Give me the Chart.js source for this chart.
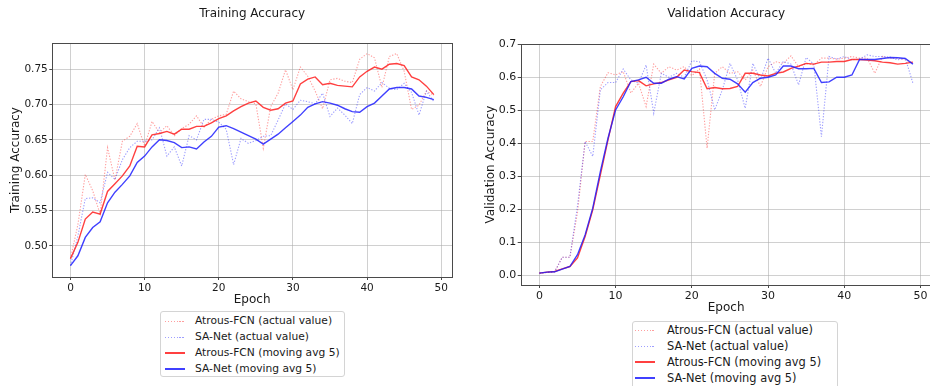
<!DOCTYPE html>
<html>
<head>
<meta charset="utf-8">
<script src="https://cdn.jsdelivr.net/npm/chart.js@4.4.1/dist/chart.umd.min.js"></script>
<style>
  html, body { margin: 0; padding: 0; background: #fff; }
  #page { position: relative; width: 930px; height: 386px; overflow: hidden; font-family: 'DejaVu Sans', sans-serif; }
  canvas { position: absolute; top: 0; }
  #trainChart { left: 0; }
  #valChart { left: 465px; }
  .legend { position: absolute; background: #fff; border: 1px solid #d4d4d4; border-radius: 3px; box-sizing: border-box; color: #1a1a1a; }
  .legend .row { display: flex; align-items: flex-start; white-space: nowrap; height: 16px; line-height: 16px; }
  .legend .swatch { display: block; width: 20px; flex: none; }
  #trainLegend { left: 160px; top: 311px; width: 185px; height: 66px; padding-top: 1px; font-size: 10.7px; }
  #trainLegend .swatch { margin-left: 4px; margin-right: 10px; }
  #valLegend { left: 632px; top: 321px; width: 206px; height: 68px; padding-top: 0; font-size: 11.4px; }
  #valLegend .swatch { margin-left: 2px; margin-right: 12px; }
</style>
</head>
<body>
<div id="page">
  <canvas id="trainChart" width="465" height="310"></canvas>
  <canvas id="valChart" width="480" height="320"></canvas>
  <div id="trainLegend" class="legend"></div>
  <div id="valLegend" class="legend"></div>
</div>
<script>
// Epoch index shared by both panels
const epochs = [0,1,2,3,4,5,6,7,8,9,10,11,12,13,14,15,16,17,18,19,20,21,22,23,24,25,26,27,28,29,30,31,32,33,34,35,36,37,38,39,40,41,42,43,44,45,46,47,48,49];

// Training accuracy per epoch
const trainAtrousActual = [0.482,0.530,0.601,0.578,0.545,0.639,0.593,0.648,0.655,0.673,0.641,0.676,0.660,0.670,0.656,0.666,0.672,0.684,0.668,0.679,0.684,0.686,0.719,0.708,0.704,0.701,0.638,0.697,0.716,0.749,0.721,0.753,0.740,0.719,0.694,0.735,0.737,0.733,0.731,0.764,0.772,0.766,0.724,0.768,0.772,0.747,0.693,0.699,0.719,0.713];
const trainSaActual     = [0.472,0.514,0.567,0.568,0.561,0.604,0.594,0.622,0.639,0.648,0.648,0.650,0.667,0.627,0.640,0.613,0.656,0.650,0.679,0.679,0.675,0.665,0.615,0.652,0.645,0.649,0.655,0.656,0.678,0.701,0.693,0.706,0.704,0.701,0.716,0.683,0.695,0.685,0.673,0.714,0.724,0.719,0.731,0.723,0.721,0.730,0.717,0.685,0.719,0.704];
const trainAtrousAvg    = [0.482,0.505,0.538,0.548,0.545,0.577,0.588,0.599,0.613,0.641,0.640,0.657,0.659,0.662,0.658,0.665,0.665,0.669,0.669,0.674,0.680,0.684,0.691,0.697,0.702,0.705,0.696,0.692,0.694,0.702,0.705,0.729,0.736,0.739,0.728,0.730,0.727,0.726,0.725,0.739,0.747,0.753,0.750,0.757,0.758,0.755,0.739,0.735,0.726,0.714];
const trainSaAvg        = [0.472,0.486,0.512,0.526,0.534,0.561,0.576,0.587,0.599,0.618,0.627,0.640,0.650,0.649,0.646,0.639,0.640,0.637,0.647,0.655,0.668,0.670,0.666,0.661,0.656,0.651,0.644,0.651,0.658,0.667,0.676,0.685,0.696,0.701,0.704,0.702,0.699,0.694,0.690,0.689,0.697,0.702,0.712,0.722,0.724,0.724,0.722,0.712,0.710,0.707];

// Validation accuracy per epoch
const valAtrousActual = [0.006,0.008,0.010,0.054,0.054,0.190,0.405,0.405,0.572,0.614,0.607,0.617,0.552,0.582,0.511,0.640,0.612,0.632,0.622,0.632,0.605,0.625,0.385,0.612,0.632,0.612,0.617,0.592,0.622,0.572,0.632,0.647,0.642,0.665,0.632,0.642,0.637,0.658,0.658,0.655,0.658,0.663,0.658,0.658,0.612,0.663,0.658,0.658,0.653,0.644];
const valSaActual     = [0.006,0.008,0.010,0.054,0.054,0.210,0.405,0.360,0.562,0.584,0.584,0.625,0.592,0.582,0.637,0.491,0.612,0.600,0.612,0.600,0.650,0.647,0.592,0.501,0.562,0.642,0.592,0.506,0.642,0.592,0.658,0.612,0.648,0.640,0.577,0.660,0.640,0.420,0.663,0.655,0.663,0.653,0.655,0.668,0.663,0.663,0.661,0.653,0.658,0.582];
const valAtrousAvg    = [0.006,0.009,0.011,0.019,0.026,0.052,0.117,0.198,0.304,0.410,0.511,0.552,0.587,0.590,0.574,0.580,0.584,0.592,0.600,0.622,0.617,0.614,0.565,0.569,0.565,0.566,0.572,0.612,0.612,0.607,0.604,0.612,0.616,0.627,0.634,0.642,0.640,0.646,0.646,0.648,0.648,0.654,0.654,0.652,0.650,0.646,0.644,0.640,0.642,0.646];
const valSaAvg        = [0.006,0.009,0.010,0.018,0.026,0.062,0.122,0.203,0.314,0.415,0.501,0.541,0.587,0.592,0.600,0.582,0.582,0.594,0.602,0.595,0.627,0.634,0.632,0.612,0.597,0.594,0.580,0.555,0.584,0.597,0.600,0.607,0.634,0.634,0.626,0.626,0.627,0.584,0.586,0.600,0.600,0.607,0.654,0.654,0.654,0.657,0.660,0.659,0.657,0.640];

// Axis ticks
const epochTicks = [0,10,20,30,40,50];
const trainTicks = [0.50,0.55,0.60,0.65,0.70,0.75];
const valTicks   = [0.0,0.1,0.2,0.3,0.4,0.5,0.6,0.7];

const seriesNames = ['Atrous-FCN (actual value)', 'SA-Net (actual value)', 'Atrous-FCN (moving avg 5)', 'SA-Net (moving avg 5)'];

const FONT = "'DejaVu Sans', sans-serif";
const TEXT = '#1a1a1a';
const GRID = 'rgba(170,170,170,0.55)';
const SPINE = '#4a4a4a';

const toPoints = (ys) => ys.map((y, i) => ({ x: epochs[i], y }));

function buildDatasets(atrousActual, saActual, atrousAvg, saAvg) {
  const common = { pointRadius: 0, tension: 0, fill: false };
  return [
    { ...common, label: seriesNames[0], data: toPoints(atrousActual), borderColor: 'rgba(255,40,40,0.45)', borderWidth: 1.1, borderDash: [1.3, 1.6], order: 3 },
    { ...common, label: seriesNames[1], data: toPoints(saActual), borderColor: 'rgba(40,40,255,0.45)', borderWidth: 1.1, borderDash: [1.3, 1.6], order: 2 },
    { ...common, label: seriesNames[2], data: toPoints(atrousAvg), borderColor: 'rgba(255,30,30,0.85)', borderWidth: 1.4, order: 1 },
    { ...common, label: seriesNames[3], data: toPoints(saAvg), borderColor: 'rgba(30,30,255,0.85)', borderWidth: 1.4, order: 0 }
  ];
}

// Full box around the plotting area
const framePlugin = {
  id: 'frame',
  afterDraw(chart) {
    const { ctx, chartArea: a } = chart;
    ctx.save();
    ctx.strokeStyle = SPINE;
    ctx.lineWidth = 1;
    ctx.strokeRect(Math.round(a.left) + 0.5, Math.round(a.top) + 0.5, Math.round(a.right - a.left), Math.round(a.bottom - a.top));
    ctx.restore();
  }
};

// Legend rendered as HTML, one entry per line, in dataset order
const htmlLegend = {
  id: 'htmlLegend',
  afterUpdate(chart, args, opts) {
    const box = document.getElementById(opts.containerID);
    box.innerHTML = '';
    chart.data.datasets.forEach((ds) => {
      const row = document.createElement('div');
      row.className = 'row';
      const sw = document.createElement('span');
      sw.className = 'swatch';
      const dotted = ds.borderDash && ds.borderDash.length;
      if (dotted) {
        sw.style.height = '1px';
        sw.style.marginTop = '8px';
        sw.style.background = 'repeating-linear-gradient(to right, ' + ds.borderColor + ' 0 1.3px, transparent 1.3px 2.9px)';
      } else {
        sw.style.height = '2px';
        sw.style.marginTop = '7px';
        sw.style.background = ds.borderColor;
      }
      const tx = document.createElement('span');
      tx.textContent = ds.label;
      row.append(sw, tx);
      box.append(row);
    });
  }
};

function makeOptions(cfg) {
  return {
    responsive: false,
    animation: false,
    events: [],
    layout: { padding: { left: cfg.padL, right: cfg.padR, top: 0, bottom: 0 } },
    plugins: {
      legend: { display: false },
      tooltip: { enabled: false },
      title: {
        display: true, text: cfg.title, fullSize: false, color: TEXT,
        font: { family: FONT, size: 12, weight: 'normal' },
        padding: { top: 7, bottom: cfg.titleGap }
      },
      htmlLegend: { containerID: cfg.legendId }
    },
    scales: {
      x: {
        type: 'linear', min: -2.45, max: 51.45,
        afterBuildTicks: (s) => { s.ticks = epochTicks.map((v) => ({ value: v })); },
        afterFit: (s) => { s.height = cfg.xH; },
        grid: { color: GRID, lineWidth: 1, drawTicks: true, tickLength: 3, tickColor: SPINE },
        border: { display: false },
        ticks: { color: TEXT, font: { family: FONT, size: cfg.tickSize }, padding: cfg.xTickPad, maxRotation: 0, autoSkip: false, callback: (v) => String(v) },
        title: { display: true, text: 'Epoch', color: TEXT, font: { family: FONT, size: 12 }, padding: { top: 0, bottom: cfg.xTitlePad } }
      },
      y: {
        type: 'linear', min: cfg.yMin, max: cfg.yMax,
        afterBuildTicks: (s) => { s.ticks = cfg.yTicks.map((v) => ({ value: v })); },
        afterFit: (s) => { s.width = cfg.yW; },
        grid: { color: GRID, lineWidth: 1, drawTicks: true, tickLength: 3, tickColor: SPINE },
        border: { display: false },
        ticks: { color: TEXT, font: { family: FONT, size: cfg.tickSize }, padding: 1.5, autoSkip: false, callback: (v) => Number(v).toFixed(cfg.dec) },
        title: { display: true, text: cfg.yTitle, color: TEXT, font: { family: FONT, size: 12 }, padding: { top: cfg.yTitlePad, bottom: 0 } }
      }
    }
  };
}

new Chart(document.getElementById('trainChart'), {
  type: 'line',
  data: { datasets: buildDatasets(trainAtrousActual, trainSaActual, trainAtrousAvg, trainSaAvg) },
  options: makeOptions({
    title: 'Training Accuracy', yTitle: 'Training Accuracy', legendId: 'trainLegend',
    padL: 4, padR: 13, yW: 48.3, yTitlePad: 4.3, titleGap: 21.6, xH: 33, xTitlePad: 2.8, xTickPad: 1.5,
    tickSize: 10.5, yMin: 0.456, yMax: 0.787, yTicks: trainTicks, dec: 2
  }),
  plugins: [framePlugin, htmlLegend]
});

new Chart(document.getElementById('valChart'), {
  type: 'line',
  data: { datasets: buildDatasets(valAtrousActual, valSaActual, valAtrousAvg, valSaAvg) },
  options: makeOptions({
    title: 'Validation Accuracy', yTitle: 'Validation Accuracy', legendId: 'valLegend',
    padL: 4, padR: 13.4, yW: 51.7, yTitlePad: 14.3, titleGap: 22.9, xH: 35, xTitlePad: 4.5, xTickPad: 1.5,
    tickSize: 11, yMin: -0.03, yMax: 0.7, yTicks: valTicks, dec: 1
  }),
  plugins: [framePlugin, htmlLegend]
});
</script>
</body>
</html>
